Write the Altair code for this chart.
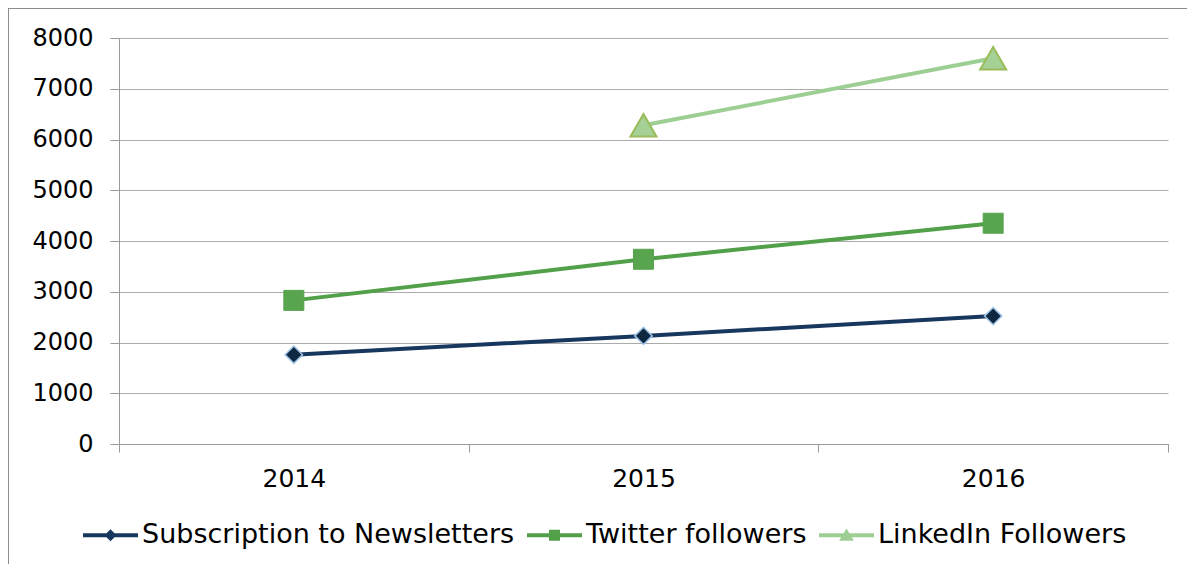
import altair as alt
import pandas as pd

years = ["2014", "2015", "2016"]
series_names = ["Subscription to Newsletters", "Twitter followers", "LinkedIn Followers"]
newsletters = [1760, 2130, 2520]
twitter = [2830, 3640, 4350]
linkedin = [None, 6280, 7600]
y_ticks = [0, 1000, 2000, 3000, 4000, 5000, 6000, 7000, 8000]

line_colors = ["#17375E", "#53A04A", "#9DCF95"]
marker_fill = ["#0E2841", "#58A44F", "#A5D096"]
marker_stroke = ["#9DC3E6", "#58A44F", "#9BBB59"]
marker_shape = ["diamond", "square", "triangle-up"]
marker_size = [300, 400, 676]
marker_sw = [1.5, 1, 2]
legend_paths = [
    "M-1,-0.07H1V0.07H-1Z M0,-0.22L0.22,0L0,0.22L-0.22,0Z",
    "M-1,-0.07H1V0.07H-1Z M-0.2,-0.2H0.2V0.2H-0.2Z",
    "M-1,-0.07H1V0.07H-1Z M0,-0.25L0.27,0.2H-0.27Z",
]

rows = []
for name, vals in zip(series_names, [newsletters, twitter, linkedin]):
    for yr, v in zip(years, vals):
        if v is not None:
            rows.append({"year": yr, "series": name, "value": v})
df = pd.DataFrame(rows)

W, H = 1049, 406
FONT = "DejaVu Sans"

x_enc = alt.X(
    "year:O",
    bandPosition=0.5,
    scale=alt.Scale(type="band", domain=years, paddingInner=0, paddingOuter=0),
    axis=alt.Axis(
        title=None, labelAngle=0, tickBand="extent", grid=False,
        labelFontSize=25, labelFont=FONT, labelColor="#000000",
        labelPadding=14, tickSize=8, domainColor="#9A9A9A", tickColor="#9A9A9A",
        domainWidth=1, tickWidth=1,
    ),
)
y_enc = alt.Y(
    "value:Q",
    scale=alt.Scale(domain=[0, 8000], nice=False),
    axis=alt.Axis(
        title=None, values=y_ticks, format="d", grid=True, gridColor="#ABABAB", gridWidth=1,
        labelFontSize=24, labelFont=FONT, labelColor="#000000",
        labelPadding=17, tickSize=9, domainColor="#9A9A9A", tickColor="#9A9A9A",
        domainWidth=1, tickWidth=1,
    ),
)

base = alt.Chart(df)

leg = alt.Legend(
    title=None, orient="none", legendX=-36, legendY=469.5, direction="horizontal",
    symbolSize=3025, symbolStrokeWidth=0, labelFontSize=27, labelFont=FONT,
    labelColor="#000000", labelOffset=4, columnPadding=12, padding=0, labelLimit=0,
)

legend_layer = base.transform_filter("false").mark_point(filled=True, opacity=1).encode(
    x=x_enc, y=y_enc,
    color=alt.Color("series:N", scale=alt.Scale(domain=series_names, range=line_colors), legend=leg),
    shape=alt.Shape("series:N", scale=alt.Scale(domain=series_names, range=legend_paths), legend=leg),
)

border = alt.Chart(alt.Data(values=[{"k": 1}])).mark_rect(
    fillOpacity=0, stroke="#8C8C8C", strokeWidth=2
).encode(
    x=alt.value(-111), x2=alt.value(1500), y=alt.value(-30), y2=alt.value(1000)
)

layers = [border, legend_layer]
for i, name in enumerate(series_names):
    layers.append(
        base.transform_filter(alt.datum.series == name)
        .mark_line(color=line_colors[i], strokeWidth=4)
        .encode(x=x_enc, y=y_enc)
    )
for i, name in enumerate(series_names):
    layers.append(
        base.transform_filter(alt.datum.series == name)
        .mark_point(
            shape=marker_shape[i], size=marker_size[i], filled=True, opacity=1,
            fill=marker_fill[i], stroke=marker_stroke[i], strokeWidth=marker_sw[i],
        )
        .encode(x=x_enc, y=y_enc)
    )

chart = (
    alt.layer(*layers)
    .properties(
        width=W, height=H,
        autosize=alt.AutoSizeParams(type="none"),
        padding={"left": 111, "top": 30, "right": 19, "bottom": 120},
        background="white",
    )
    .configure_view(stroke="transparent")
)

chart.save("out.html", embed_options={"renderer": "svg", "actions": False})
